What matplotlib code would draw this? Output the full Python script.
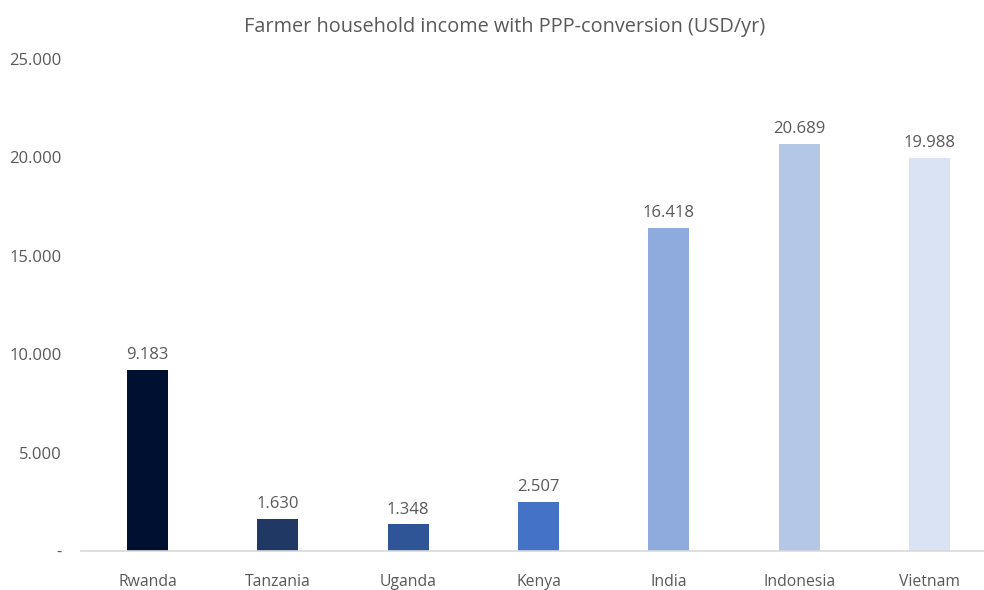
import matplotlib
matplotlib.use("Agg")
import matplotlib.pyplot as plt
from matplotlib.ticker import FuncFormatter

countries = ["Rwanda", "Tanzania", "Uganda", "Kenya", "India", "Indonesia", "Vietnam"]
income = [9183, 1630, 1348, 2507, 16418, 20689, 19988]
bar_colors = ["#001030", "#1F3864", "#2F5597", "#4472C4", "#8FAADC", "#B4C7E7", "#DAE3F3"]

plt.rcParams["font.family"] = ["Open Sans", "DejaVu Sans"]
txt = "#595959"

fig = plt.figure(figsize=(9.84, 5.9), dpi=100)
# axes in pixel terms: left 81, right 984, bottom y=551, top y=59
ax = fig.add_axes([81 / 984, (590 - 551) / 590, (984 - 81) / 984, (551 - 59) / 590])

x = range(len(countries))
ax.bar(x, income, width=0.315, color=bar_colors, zorder=2)

for i, v in enumerate(income):
    ax.annotate(f"{v:,}".replace(",", "."), (i, v), xytext=(0, 5), textcoords="offset points",
                ha="center", va="bottom", fontsize=12, color=txt)

ax.set_xlim(-0.51, 6.418)
ax.set_ylim(0, 25000)
ax.set_yticks([0, 5000, 10000, 15000, 20000, 25000])
ax.yaxis.set_major_formatter(FuncFormatter(lambda v, p: "-" if v == 0 else f"{int(v):,}".replace(",", ".")))
ax.set_xticks(list(x))
ax.set_xticklabels(countries, fontsize=11.3)

for s in ["top", "right", "left"]:
    ax.spines[s].set_visible(False)
ax.spines["bottom"].set_color("#D9D9D9")
ax.spines["bottom"].set_linewidth(1.2)
ax.tick_params(axis="both", length=0, colors=txt)
ax.tick_params(axis="y", labelsize=12, pad=14)
ax.tick_params(axis="x", pad=16.5)

fig.text(0.513, 0.955, "Farmer household income with PPP-conversion (USD/yr)",
         ha="center", va="center", fontsize=14.3, color=txt)

fig.savefig("out.png", dpi=100)
